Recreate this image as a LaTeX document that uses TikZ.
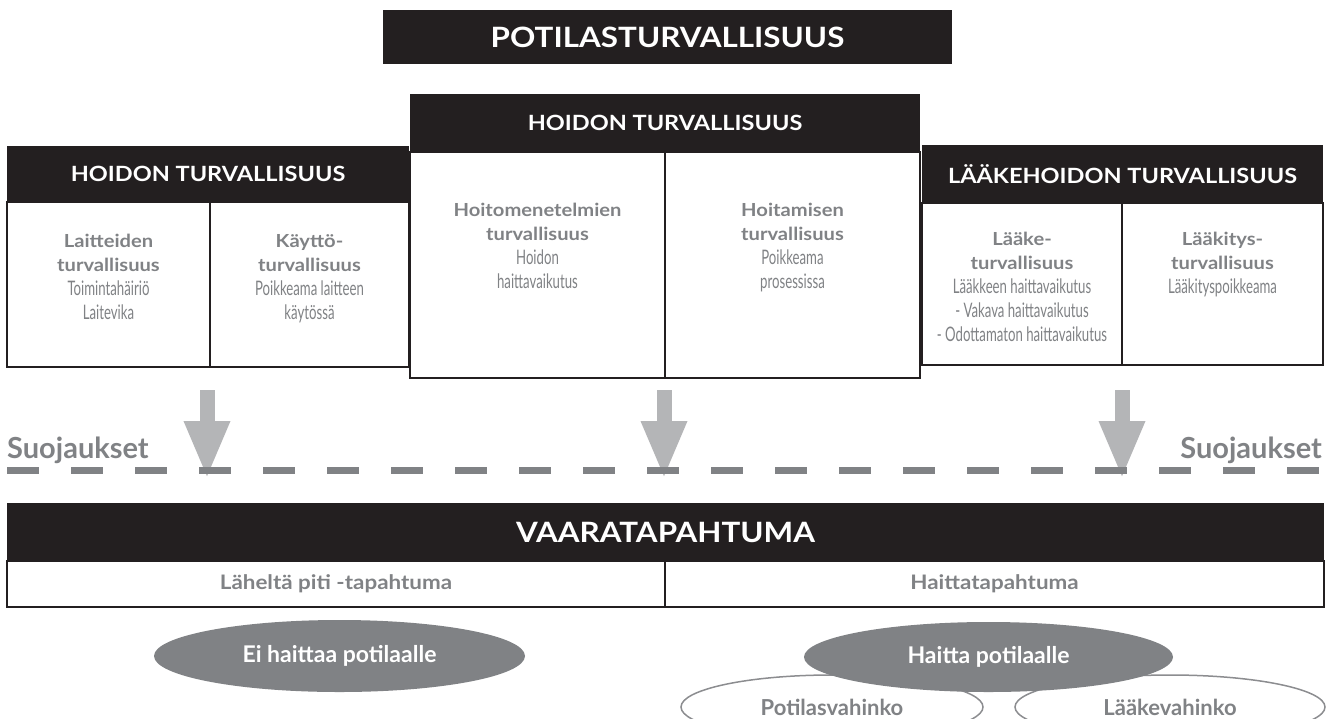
\documentclass[tikz,border=0pt]{standalone}
\usepackage{fontspec}
\setmainfont{Lato}
\newfontfamily\widefont{Lato}[FakeStretch=1.12]
\newfontfamily\narrowfont{Lato}[FakeStretch=0.66]
\usetikzlibrary{arrows.meta,shapes.geometric}

\definecolor{ink}{RGB}{35,31,32}
\definecolor{txtgray}{RGB}{128,130,133}
\definecolor{arrowgray}{RGB}{180,181,183}
\definecolor{rimgray}{RGB}{140,141,144}

\newcommand{\pieni}[1]{{\narrowfont\mdseries\fontsize{20}{24}\selectfont #1}}

\tikzset{
  header/.style={fill=ink, text=white, inner sep=0pt, font=\widefont\bfseries\fontsize{21}{21}\selectfont},
  cell/.style={draw=ink, line width=2.5pt, fill=white, inner sep=0pt},
  celltext/.style={anchor=north, align=center, inner sep=0pt, text=txtgray, font=\widefont\bfseries\fontsize{18}{24}\selectfont},
  rowtext/.style={text=txtgray, font=\widefont\bfseries\fontsize{20}{20}\selectfont},
  downarrow/.style={line width=15pt, arrowgray, -{Triangle[width=42pt,length=58pt]}},
  guard/.style={inner sep=0pt, text=txtgray, font=\bfseries\fontsize{29}{29}\selectfont},
  blob/.style={ellipse, fill=txtgray, text=white, inner sep=0pt, font=\bfseries\fontsize{23}{23}\selectfont},
  ring/.style={ellipse, draw=rimgray, line width=1.5pt, text=txtgray, inner sep=0pt, font=\bfseries\fontsize{22}{22}\selectfont}
}

\begin{document}
\begin{tikzpicture}[x=1pt, y=-1pt]
\useasboundingbox (0,0) rectangle (1332,718);
\fill[white] (0,0) rectangle (1332,718);

\node[header, minimum width=569pt, minimum height=54pt, font=\widefont\bfseries\fontsize{28}{28}\selectfont] (potilas) at (667.5,37) {POTILASTURVALLISUUS};

% hoidon turvallisuus, vasen
\node[cell, minimum width=203pt, minimum height=165pt] (laite) at (108.5,284.5) {};
\node[cell, minimum width=199pt, minimum height=165pt] (kaytto) at (309.5,284.5) {};
\node[header, minimum width=402pt, minimum height=56pt] (hoitoL) at (208,174) {HOIDON TURVALLISUUS};
\node[celltext] (laiteT) at (108.5,234) {Laitteiden\\turvallisuus\\\pieni{Toimintahäiriö}\\\pieni{Laitevika}};
\node[celltext] (kayttoT) at (309.5,234) {Käyttö-\\turvallisuus\\\pieni{Poikkeama laitteen}\\\pieni{käytössä}};

% hoidon turvallisuus, keski
\node[cell, minimum width=255pt, minimum height=226pt] (menetelma) at (537.5,265) {};
\node[cell, minimum width=255pt, minimum height=226pt] (hoitaminen) at (792.5,265) {};
\node[header, minimum width=510pt, minimum height=58pt] (hoitoM) at (665,123) {HOIDON TURVALLISUUS};
\node[celltext] (menetelmaT) at (537.5,203) {Hoitomenetelmien\\turvallisuus\\\pieni{Hoidon}\\\pieni{haittavaikutus}};
\node[celltext] (hoitaminenT) at (792.5,203) {Hoitamisen\\turvallisuus\\\pieni{Poikkeama}\\\pieni{prosessissa}};

% lääkehoito
\node[cell, minimum width=200pt, minimum height=162pt] (laake) at (1022,284) {};
\node[cell, minimum width=201pt, minimum height=162pt] (laakitys) at (1222.5,284) {};
\node[header, minimum width=401pt, minimum height=58pt] (laakehoito) at (1122.5,174) {LÄÄKEHOIDON TURVALLISUUS};
\node[celltext] (laakeT) at (1022,232) {Lääke-\\turvallisuus\\\pieni{Lääkkeen haittavaikutus}\\\pieni{- Vakava haittavaikutus}\\\pieni{- Odottamaton haittavaikutus}};
\node[celltext] (laakitysT) at (1222.5,232) {Lääkitys-\\turvallisuus\\\pieni{Lääkityspoikkeama}};

% suojaukset
\coordinate (arrL0) at (207,390);
\coordinate (arrL1) at (207,479);
\coordinate (arrM0) at (664,390);
\coordinate (arrM1) at (664,479);
\coordinate (arrR0) at (1122,390);
\coordinate (arrR1) at (1122,479);
\draw[downarrow] (arrL0) -- (arrL1);
\draw[downarrow] (arrM0) -- (arrM1);
\draw[downarrow] (arrR0) -- (arrR1);
\coordinate (lineL) at (7,470);
\coordinate (lineR) at (1332,470);
\draw[txtgray, line width=7pt, dash pattern=on 32pt off 32pt] (lineL) -- (lineR);
\node[guard, anchor=base west] (suojaL) at (7,458) {Suojaukset};
\node[guard, anchor=base east] (suojaR) at (1322,458) {Suojaukset};

% vaaratapahtuma
\node[cell, rowtext, minimum width=658pt, minimum height=46pt] (lahelta) at (336,584) {Läheltä piti -tapahtuma};
\node[cell, rowtext, minimum width=659pt, minimum height=46pt] (haittatap) at (994.5,584) {Haittatapahtuma};
\node[header, minimum width=1317pt, minimum height=58pt, font=\widefont\bfseries\fontsize{28}{28}\selectfont] (vaara) at (665.5,532) {VAARATAPAHTUMA};

\node[ring, minimum width=302pt, minimum height=64pt] (potilasvahinko) at (832,707) {Potilasvahinko};
\node[ring, minimum width=310pt, minimum height=64pt] (laakevahinko) at (1170,707) {Lääkevahinko};
\node[blob, minimum width=371pt, minimum height=72pt] (eihaittaa) at (339.5,656) {Ei haittaa potilaalle};
\node[blob, minimum width=369pt, minimum height=70pt] (haitta) at (988.5,657) {Haitta potilaalle};
\end{tikzpicture}
\end{document}
